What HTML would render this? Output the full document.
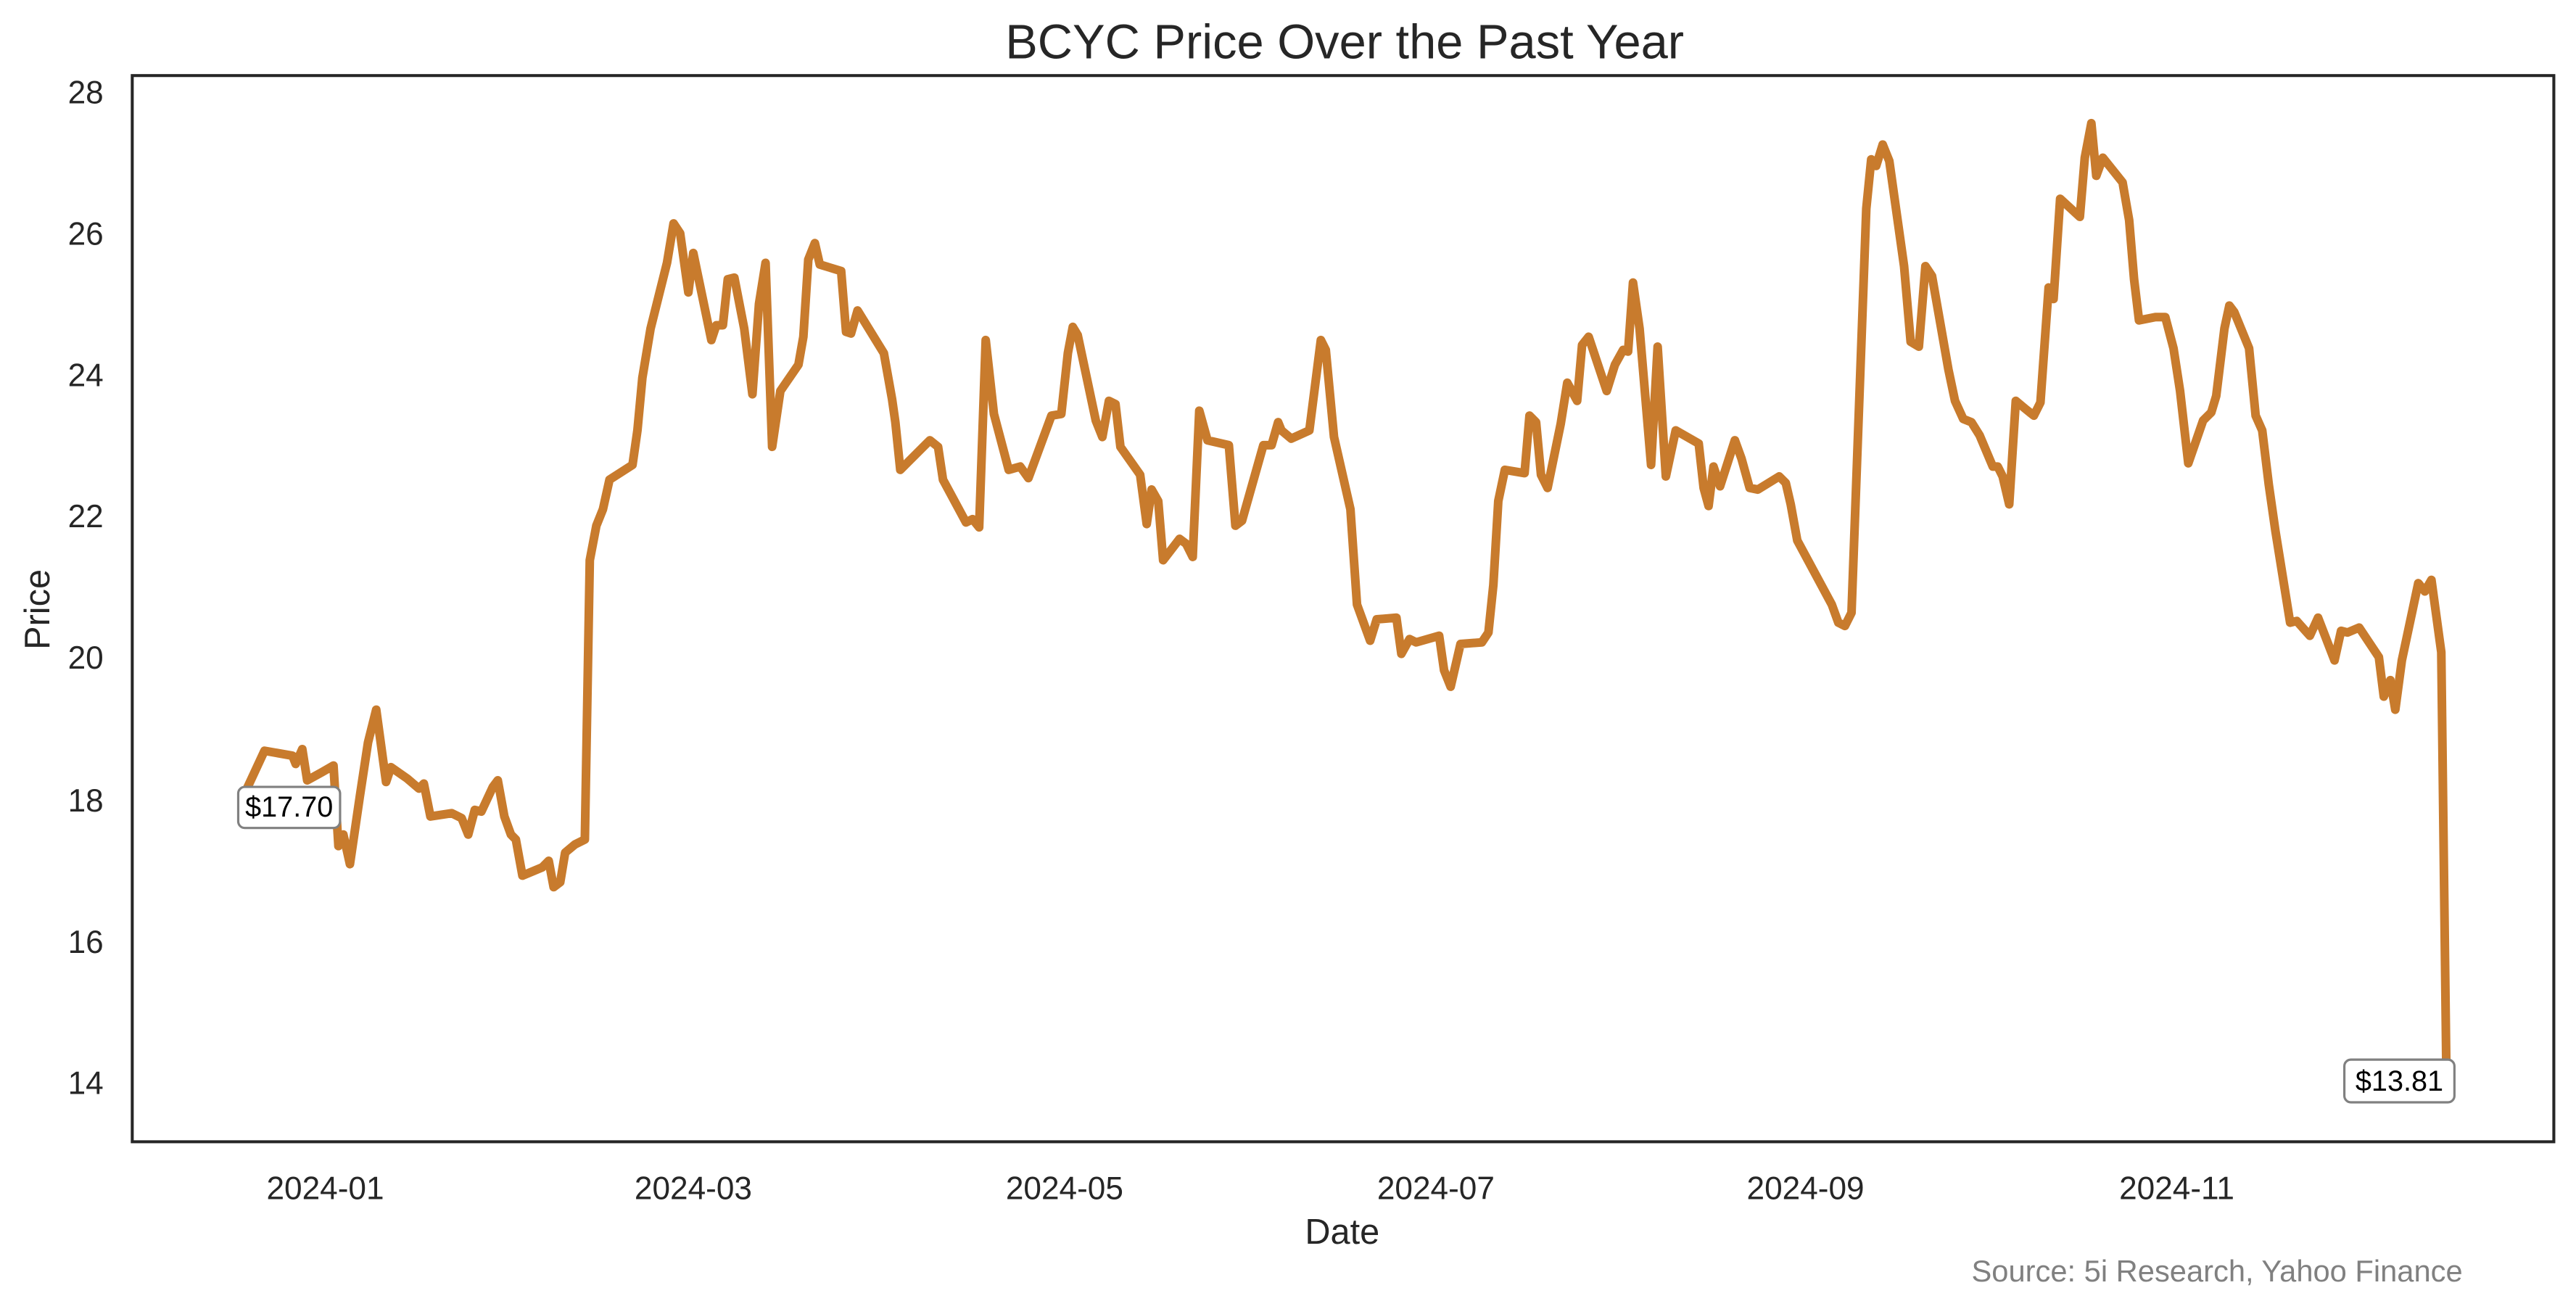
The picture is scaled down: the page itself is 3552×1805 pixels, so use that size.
<!DOCTYPE html>
<html><head><meta charset="utf-8"><style>html,body{margin:0;padding:0;background:#fff}svg{display:block}</style></head>
<body>
<svg width="3552" height="1805" viewBox="0 0 1568 796.8" xmlns="http://www.w3.org/2000/svg" font-family="Liberation Sans, sans-serif">
<rect width="1568" height="797" fill="#fff"/>
<text x="818.5" y="35.6" font-size="29.5" text-anchor="middle" fill="#262626">BCYC Price Over the Past Year</text>
<g font-size="19.5" fill="#262626" text-anchor="end">
<text x="63" y="63">28</text><text x="63" y="149">26</text><text x="63" y="235">24</text><text x="63" y="321">22</text><text x="63" y="407">20</text><text x="63" y="494">18</text><text x="63" y="580">16</text><text x="63" y="666">14</text>
</g>
<g font-size="19.5" fill="#262626" text-anchor="middle">
<text x="198" y="730">2024-01</text><text x="422" y="730">2024-03</text><text x="648" y="730">2024-05</text><text x="874" y="730">2024-07</text><text x="1099" y="730">2024-09</text><text x="1325" y="730">2024-11</text>
</g>
<text x="817" y="757" font-size="21.5" text-anchor="middle" fill="#262626">Date</text>
<text transform="translate(30,371) rotate(-90)" font-size="21.5" text-anchor="middle" fill="#262626">Price</text>
<text x="1499" y="780" font-size="18.4" text-anchor="end" fill="#808080">Source: 5i Research, Yahoo Finance</text>
<polyline fill="none" stroke="#c87b2d" stroke-width="5.3" stroke-linejoin="round" stroke-linecap="round" points="148,485 161,457 178,460 180,465 184,456 187,475 196,470 203,466 206,515 209,508 213,526 219,485 224,452 229,432 235,476 238,467 248,474 255,480 258,477 262,497 275,495 281,498 285,508 289,493 293,494 300,479 303,475 307,497 311,508 314,511 318,533 330,528 334,524 337,540 341,537 344,519 350,514 356,511 359,341 363,320 367,310 371,292 385,283 388,262 391,230 396,200 406,160 410,136 414,142 419,178 422,154 433,207 436,198 440,198 443,170 447,169 453,200 458,240 462,185 466,160 470,272 475,238 486,222 489,205 492,158 496,148 499,161 512,165 515,202 518,203 522,189 538,215 543,243 545,257 548,286 554,280 566,268 571,272 574,292 588,318 592,316 596,321 600,207 605,252 614,286 621,284 626,291 640,253 646,252 650,215 653,199 656,204 667,256 671,266 675,244 679,246 682,272 694,289 698,319 701,298 705,305 708,341 718,328 722,331 726,339 730,250 735,268 748,271 752,320 756,317 769,271 774,271 778,257 780,262 786,267 797,262 804,207 807,213 812,266 822,310 826,368 830,379 834,390 838,377 850,376 853,398 858,389 862,391 876,387 879,408 883,418 889,392 902,391 906,385 909,356 912,305 916,286 928,288 931,253 935,257 938,289 942,297 950,258 954,233 960,244 963,210 967,205 978,238 983,222 988,213 991,214 994,172 998,200 1005,283 1009,211 1014,290 1020,262 1034,270 1037,297 1040,308 1043,284 1047,296 1056,268 1060,279 1065,297 1070,298 1083,290 1087,294 1090,307 1094,329 1115,368 1119,379 1123,381 1127,373 1136,127 1139,97 1142,101 1146,88 1150,98 1159,162 1163,208 1168,211 1172,162 1176,168 1186,225 1190,244 1195,255 1200,257 1205,265 1213,284 1216,284 1219,290 1223,307 1227,244 1233,249 1238,253 1242,245 1247,175 1250,182 1254,121 1266,132 1269,96 1273,75 1276,107 1280,96 1292,111 1296,134 1299,170 1302,195 1312,193 1318,193 1323,212 1327,238 1332,282 1341,256 1346,251 1349,241 1354,200 1357,186 1360,190 1369,212 1373,253 1377,262 1381,295 1385,323 1394,379 1398,378 1406,387 1411,376 1421,402 1425,384 1429,385 1436,382 1448,400 1451,424 1455,414 1458,432 1462,402 1472,355 1476,360 1480,353 1486,397 1489,645"/>
<rect x="145" y="479" width="62" height="25" rx="4" fill="#fff" stroke="#808080" stroke-width="1.4"/>
<text x="176" y="497" font-size="17.5" text-anchor="middle" fill="#000">$17.70</text>
<rect x="1427" y="645" width="67" height="26" rx="4" fill="#fff" stroke="#808080" stroke-width="1.4"/>
<text x="1460.5" y="664" font-size="17.5" text-anchor="middle" fill="#000">$13.81</text>
<rect x="80.5" y="46" width="1474" height="649" fill="none" stroke="#262626" stroke-width="1.8"/>
</svg>
</body></html>
